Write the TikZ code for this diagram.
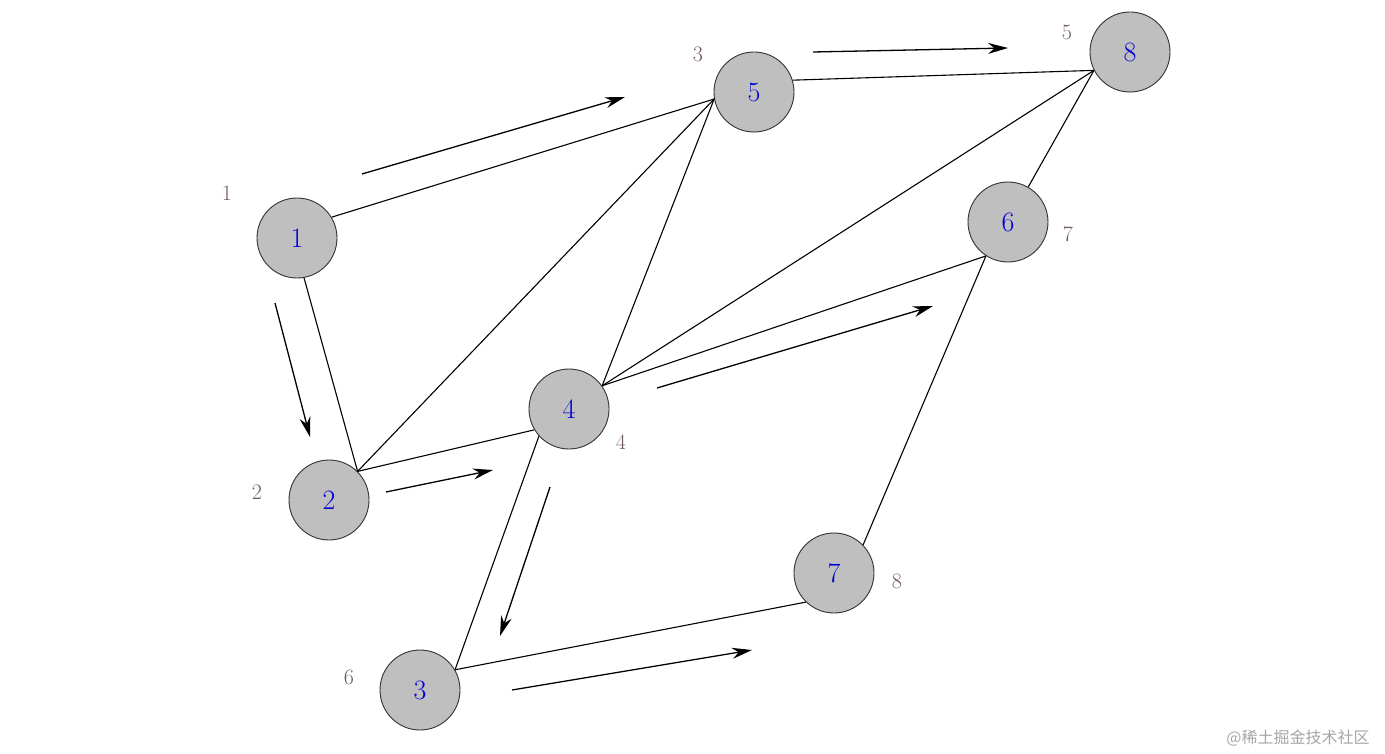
\documentclass[tikz,border=0pt]{standalone}
\usepackage{fontspec}
\newfontfamily\cjk{Noto Sans CJK SC}
\usetikzlibrary{arrows.meta}
\definecolor{labc}{RGB}{110,90,90}
\begin{document}
\begin{tikzpicture}[x=1pt,y=-1pt,
 v/.style={circle,draw=black!80,line width=0.9pt,fill=black!25,minimum size=80pt,inner sep=0pt,text=blue!85!black,font=\fontsize{28}{28}\selectfont},
 lab/.style={text=labc,font=\fontsize{22}{22}\selectfont},
 e/.style={draw=black,line width=1.1pt},
 arr/.style={draw=black,line width=1.3pt,-{Stealth[length=20pt,width=11pt]}}]
\useasboundingbox (0,0) rectangle (1385,754);
\node[v] (n1) at (297,238) {1};
\node[v] (n2) at (329,500) {2};
\node[v] (n3) at (420,690) {3};
\node[v] (n4) at (569,409) {4};
\node[v] (n5) at (754,92) {5};
\node[v] (n6) at (1008,222) {6};
\node[v] (n7) at (834,573) {7};
\node[v] (n8) at (1130,52) {8};
\draw[e] (n1.31) -- (n5.190);
\draw[e] (n1.-80) -- (n2.45);
\draw[e] (n2.45) -- (n5.190);
\draw[e] (n2.45) -- (n4.211);
\draw[e] (n4.35) -- (n5.190);
\draw[e] (n4.35) -- (n8.207);
\draw[e] (n4.35) -- (n6.237);
\draw[e] (n4.222) -- (n3.30);
\draw[e] (n5.17) -- (n8.207);
\draw[e] (n8.207) -- (n6.60);
\draw[e] (n6.237) -- (n7.44);
\draw[e] (n3.30) -- (n7.226);
\node[lab] (l1) at (227,193) {1};
\node[lab] (l2) at (257,492) {2};
\node[lab] (l6) at (349,677) {6};
\node[lab] (l4) at (621,442) {4};
\node[lab] (l3) at (698,54) {3};
\node[lab] (l5) at (1067,32) {5};
\node[lab] (l7) at (1068,234) {7};
\node[lab] (l8) at (897,581) {8};
\coordinate (a1) at (362,174); \coordinate (b1) at (625,97);
\coordinate (a2) at (813,52); \coordinate (b2) at (1008,48);
\coordinate (a3) at (275,303); \coordinate (b3) at (310,437);
\coordinate (a4) at (386,492); \coordinate (b4) at (493,470);
\coordinate (a5) at (657,388); \coordinate (b5) at (933,306);
\coordinate (a6) at (550,487); \coordinate (b6) at (500,636);
\coordinate (a7) at (512,690); \coordinate (b7) at (752,650);
\foreach \i in {1,...,7} \draw[arr] (a\i) -- (b\i);
\node[text=black!35,font=\cjk\fontsize{16}{16}\selectfont] (wm) at (1298,738) {@稀土掘金技术社区};
\end{tikzpicture}
\end{document}
